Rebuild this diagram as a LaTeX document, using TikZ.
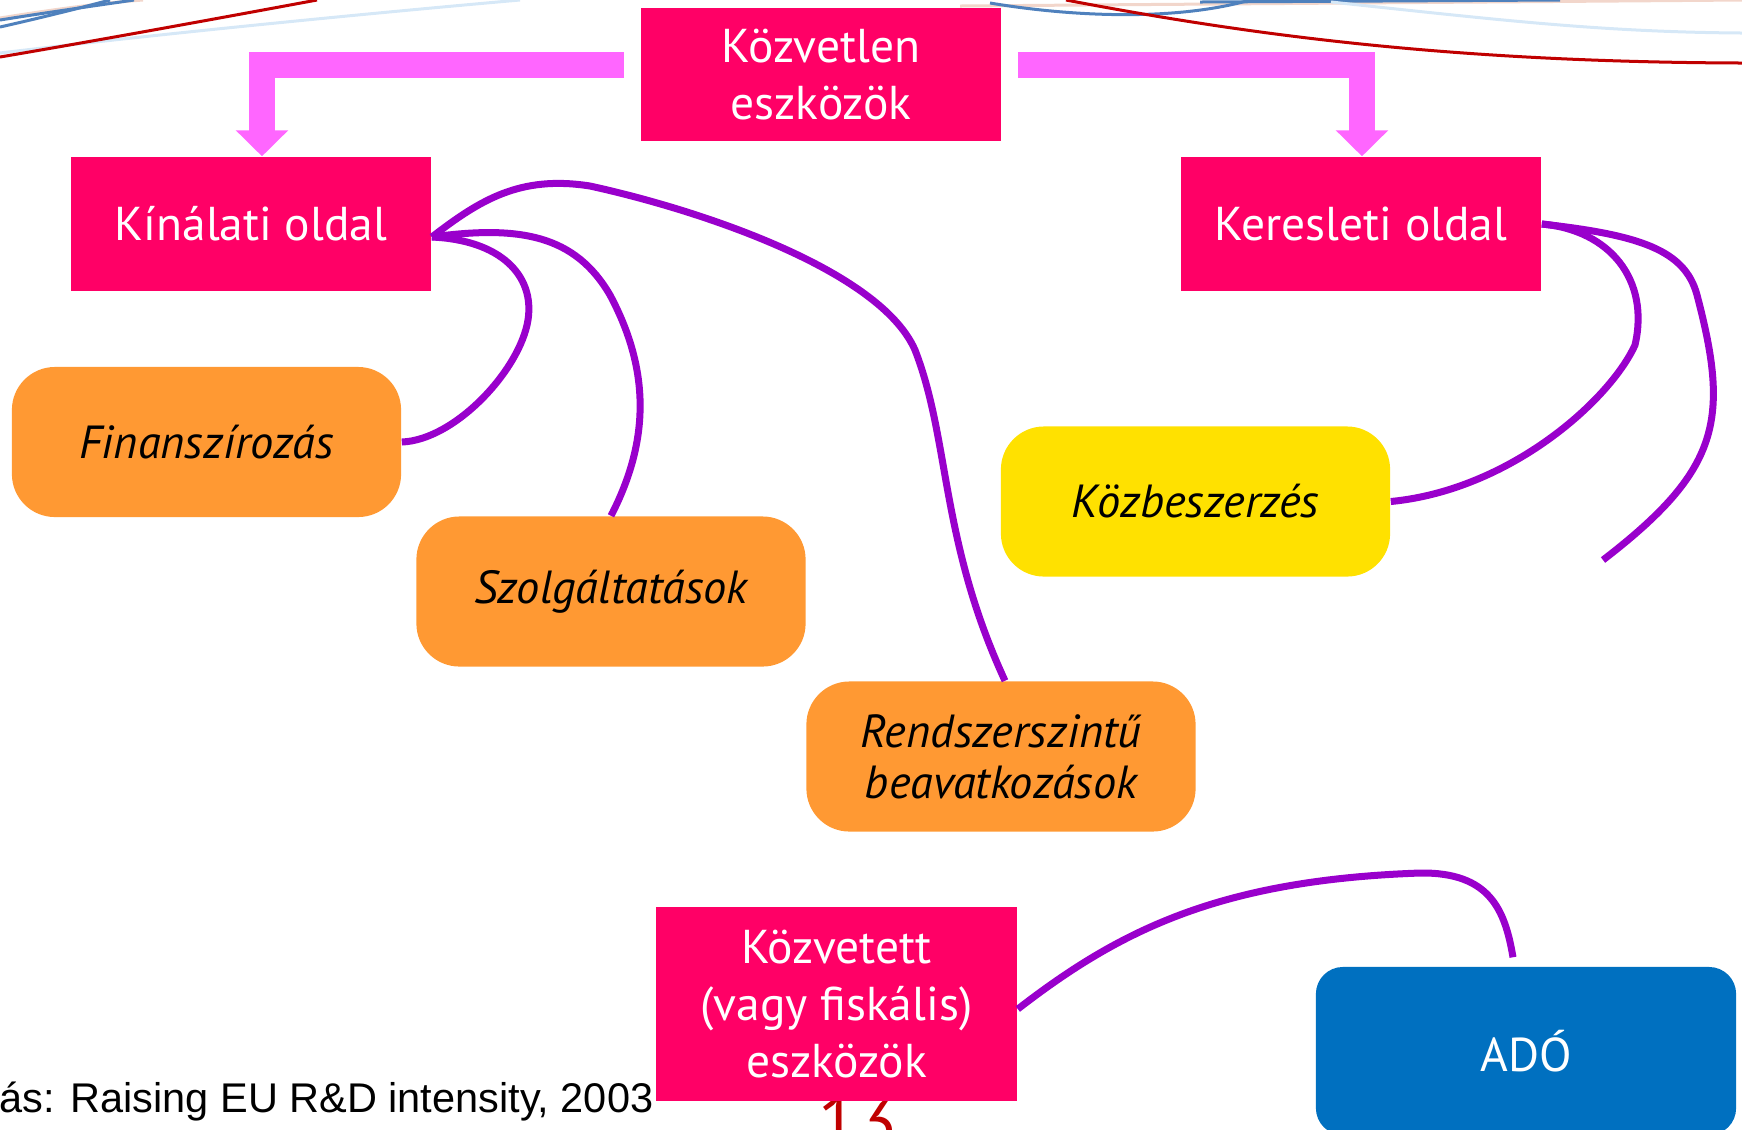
\documentclass[tikz,border=0pt]{standalone}
\usepackage{fontspec}
\setmainfont{PT Sans}
\newfontfamily\arialfont{Liberation Sans}
\usetikzlibrary{arrows.meta}

\definecolor{boxpink}{HTML}{FF0066}
\definecolor{arrowpink}{HTML}{FF66FF}
\definecolor{boxorange}{HTML}{FF9933}
\definecolor{boxyellow}{HTML}{FFE100}
\definecolor{boxblue}{HTML}{0070C0}
\definecolor{linkpurple}{HTML}{9900CC}
\definecolor{slidered}{HTML}{C00000}
\definecolor{slideblue}{HTML}{4F81BD}
\definecolor{slidelightblue}{HTML}{D6E8F7}
\definecolor{slidepeach}{HTML}{F2D6CB}

\begin{document}
\begin{tikzpicture}[
  x=0.01cm, y=-0.01cm,
  pinkbox/.style={fill=boxpink, text=white, align=center, inner sep=0pt, minimum width=3.6cm, minimum height=1.34cm, font=\fontsize{13.5}{16.2}\selectfont},
  toolbox/.style={fill=boxorange, rounded corners=0.43cm, align=center, inner sep=0pt, minimum width=3.89cm, minimum height=1.5cm, font=\fontsize{13.2}{14.5}\selectfont\itshape},
  bigarrow/.style={arrowpink, line width=0.26cm, -{Triangle[width=0.51cm, length=0.26cm]}},
  link/.style={linkpurple, line width=0.07cm},
  deco/.style={line width=0.03cm}
]

\clip (0,0) rectangle (1742,1129);

% Slide decoration
\draw[deco, slidepeach] (0,18) .. controls (50,10) and (100,3) .. (143,0);
\draw[deco, slidepeach] (960,6) .. controls (1200,4) and (1500,2) .. (1742,0);
\draw[deco, slideblue] (0,20) .. controls (50,12) and (100,5) .. (134,0);
\draw[deco, slideblue] (0,27) .. controls (40,18) and (80,8) .. (110,0);
\draw[deco, slideblue] (990,3) .. controls (1080,18) and (1180,20) .. (1250,0);
\draw[deco, slideblue] (1200,2) -- (1560,0);
\draw[deco, slidelightblue] (0,53) .. controls (150,35) and (350,15) .. (520,0);
\draw[deco, slidelightblue] (1331,2) .. controls (1500,20) and (1600,32) .. (1742,33);
\draw[deco, slidered] (0,57) .. controls (100,40) and (220,18) .. (317,0);
\draw[deco, slidered] (1066,0) .. controls (1250,35) and (1450,62) .. (1742,63);

% Page number
\node[anchor=base west, inner sep=0pt, text=slidered, font=\fontsize{20.5}{24}\selectfont] (pagenum) at (818,1146) {13};

% Direct tools
\node[pinkbox, minimum height=1.33cm] (kvl) at (821,74.5) {Közvetlen\\eszközök};
\node[pinkbox] (kin) at (251,224) {Kínálati oldal};
\node[pinkbox] (ker) at (1361,224) {Keresleti oldal};

% Supply side
\node[toolbox] (fin) at (206.5,442) {Finanszírozás};
\node[toolbox] (szolg) at (611,591.5) {Szolgáltatások};
\node[toolbox] (rend) at (1001,756.5) {Rendszerszintű\\beavatkozások};

% Demand side
\node[toolbox, fill=boxyellow] (kozb) at (1195.5,501.5) {Közbeszerzés};

% Indirect tools
\node[pinkbox, minimum width=3.61cm, minimum height=1.94cm] (kvt) at (836.5,1004) {Közvetett\\(vagy fiskális)\\eszközök};
\node[fill=boxblue, text=white, rounded corners=0.27cm, inner sep=0pt, minimum width=4.2cm, minimum height=1.68cm, font=\fontsize{13.5}{16.2}\selectfont] (ado) at (1526,1051) {ADÓ};

% Block arrows
\draw[bigarrow] ([xshift=-0.16cm, yshift=0.095cm]kvl.west) -| ([xshift=0.11cm]kin.north);
\draw[bigarrow] ([xshift=0.16cm, yshift=0.095cm]kvl.east) -| ([xshift=0.01cm]ker.north);

% Links
\coordinate (loose) at (1603,560);
\draw[link] ([yshift=-0.13cm]kin.east) .. controls (500,240) and (535,275) .. (528,320)
  .. controls (520,370) and (455,440) .. (fin.east);
\draw[link] ([yshift=-0.13cm]kin.east) .. controls (520,225) and (575,235) .. (610,295)
  .. controls (650,370) and (650,440) .. (szolg.north);
\draw[link] ([yshift=-0.13cm]kin.east) .. controls (480,200) and (520,175) .. (590,186)
  .. controls (700,210) and (880,270) .. (915,350)
  .. controls (950,440) and (940,540) .. ([xshift=0.04cm]rend.north);
\draw[link] (ker.east) .. controls (1610,230) and (1650,280) .. (1635,345)
  .. controls (1610,400) and (1510,490) .. (kozb.east);
\draw[link] (ker.east) .. controls (1640,235) and (1685,250) .. (1697,295)
  .. controls (1730,420) and (1720,470) .. (loose);
\draw[link] ([yshift=-0.05cm]kvt.east) .. controls (1120,930) and (1220,880) .. (1420,873)
  .. controls (1490,872) and (1505,910) .. ([xshift=-0.13cm, yshift=0.09cm]ado.north);

% Source
\node[anchor=base east, inner sep=0pt, font=\arialfont\fontsize{11.8}{13}\selectfont] (src) at (654,1112) {ás: Raising EU R\&D intensity, 2003};

\end{tikzpicture}
\end{document}
